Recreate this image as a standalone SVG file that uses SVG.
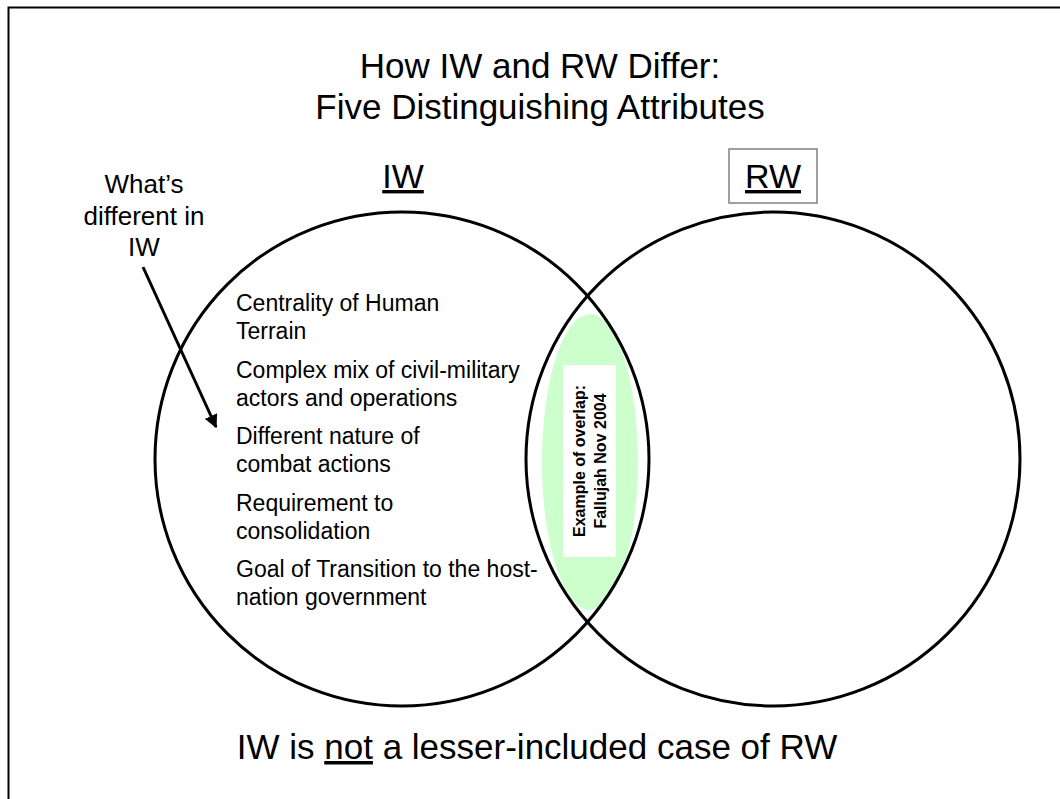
<svg xmlns="http://www.w3.org/2000/svg" width="1060" height="799" viewBox="0 0 1060 799">
  <style>
    text { font-family: "Liberation Sans", Arial, sans-serif; fill: #000; }
    .title { font-size: 35px; text-anchor: middle; }
    .label { font-size: 34px; text-anchor: middle; }
    .note { font-size: 26px; text-anchor: middle; }
    .item { font-size: 23px; }
    .ov { font-size: 16px; font-weight: bold; text-anchor: middle; }
    .circle { fill: none; stroke: #000; stroke-width: 3; }
  </style>
  <defs>
    <marker id="arrow" viewBox="0 0 10 10" refX="9" refY="5" markerWidth="4.5" markerHeight="4.5" orient="auto" markerUnits="strokeWidth">
      <path d="M0,0 L10,5 L0,10 z" fill="#000"/>
    </marker>
  </defs>
  <rect x="0" y="0" width="1060" height="799" fill="#fff"/>
  <rect x="8.5" y="7.5" width="1070" height="820" fill="none" stroke="#000" stroke-width="2"/>

  <g id="title">
    <text class="title" x="540" y="78">How IW and RW Differ:</text>
    <text class="title" x="540" y="119">Five Distinguishing Attributes</text>
  </g>

  <g id="overlap">
    <ellipse cx="590" cy="462" rx="48" ry="148" fill="#CCFFCC"/>
    <rect x="563" y="365" width="53" height="192" fill="#fff"/>
    <g transform="translate(589,461) rotate(-90)">
      <text class="ov" x="0" y="-4">Example of overlap:</text>
      <text class="ov" x="0" y="17">Fallujah Nov 2004</text>
    </g>
  </g>

  <g id="iw-circle">
    <circle class="circle" cx="402" cy="459" r="247"/>
  </g>
  <g id="rw-circle">
    <circle class="circle" cx="773" cy="459" r="247"/>
  </g>

  <g id="iw-label">
    <text class="label" x="403" y="188" text-decoration="underline">IW</text>
  </g>
  <g id="rw-label">
    <rect x="729" y="149" width="88" height="54" fill="#fff" stroke="#808080" stroke-width="1.5"/>
    <text class="label" x="773" y="188" text-decoration="underline">RW</text>
  </g>

  <g id="whats-different">
    <text class="note" x="144" y="193">What’s</text>
    <text class="note" x="144" y="225">different in</text>
    <text class="note" x="144" y="256">IW</text>
  </g>

  <g id="attributes">
    <text class="item" x="236" y="311">Centrality of Human</text>
    <text class="item" x="236" y="339">Terrain</text>
    <text class="item" x="236" y="378">Complex mix of civil-military</text>
    <text class="item" x="236" y="406">actors and operations</text>
    <text class="item" x="236" y="444">Different nature of</text>
    <text class="item" x="236" y="472">combat actions</text>
    <text class="item" x="236" y="511">Requirement to</text>
    <text class="item" x="236" y="539">consolidation</text>
    <text class="item" x="236" y="577">Goal of Transition to the host-</text>
    <text class="item" x="236" y="605">nation government</text>
  </g>

  <g id="connectors">
    <line x1="143" y1="267" x2="216" y2="427" stroke="#000" stroke-width="3" marker-end="url(#arrow)"/>
  </g>

  <g id="conclusion">
    <text class="title" x="537" y="759">IW is <tspan text-decoration="underline">not</tspan> a lesser-included case of RW</text>
  </g>
</svg>
